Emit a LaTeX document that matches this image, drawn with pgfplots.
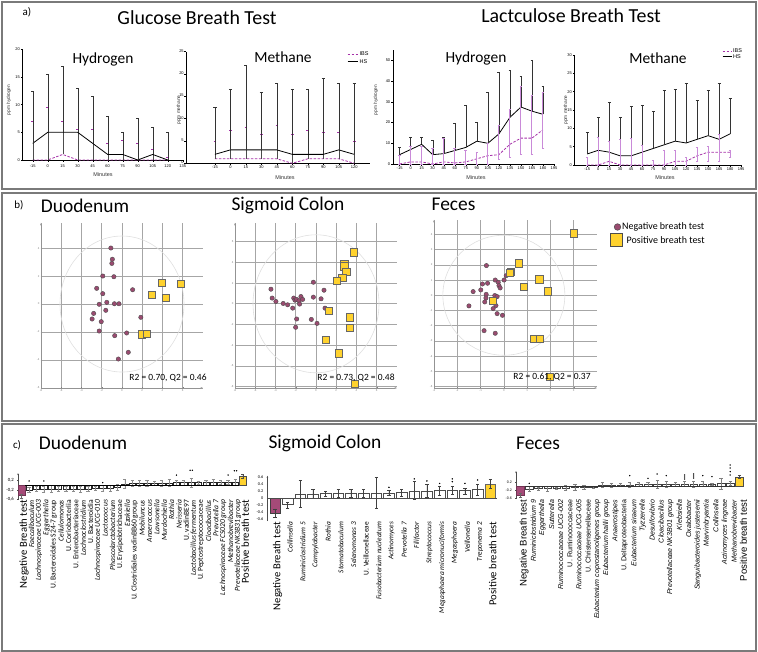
\documentclass[border=0pt]{standalone}
\usepackage{pgfplots}
\usepackage{pgfplotstable}
\pgfplotsset{compat=1.18}
\usepackage{fontspec}
\setmainfont{Carlito}
\newfontfamily\arial{Liberation Sans}
\usetikzlibrary{arrows.meta}
\definecolor{ibs}{HTML}{A52FA8}
\definecolor{ibsbar}{HTML}{C98AD8}
\definecolor{negc}{HTML}{A54A78}
\definecolor{posc}{HTML}{FFD22E}
\definecolor{dotc}{HTML}{9A4B70}
\definecolor{framec}{HTML}{7A7A7A}
\newcommand\fs[1]{\fontsize{#1}{#1}\selectfont}

\pgfplotsset{
 gp/.style={scale only axis, anchor=south west, axis x line*=bottom, axis y line*=left,
   tick align=outside, major tick length=1.8bp, every tick/.style={black, line width=0.4bp},
   axis line style={black, line width=0.5bp}, tick label style={font=\arial\fs{4}, inner sep=0.8pt},
   /pgf/number format/assume math mode=true, clip=false},
 sc/.style={scale only axis, anchor=south west, axis lines=left,
   axis line style={gray!85, line width=0.5bp, -{Stealth[length=2.5bp]}},
   grid=major, grid style={gray!70, line width=0.6bp}, major tick length=1bp,
   tick style={gray, line width=0.3bp}, tick label style={font=\arial\fs{2.8}, text=gray, inner sep=1pt},
   /pgf/number format/assume math mode=true, clip=false},
 br/.style={scale only axis, anchor=south west, axis y line=left, axis x line*=bottom,
   x axis line style={draw=none}, y axis line style={gray!60!black, line width=0.4bp, -{Stealth[length=2bp]}},
   xtick style={draw=none}, ytick style={gray!60!black, line width=0.3bp}, major tick length=1.2bp,
   xticklabel style={rotate=90, anchor=east, inner sep=1pt}, clip=false},
 eb/.style={error bars/y dir=both, error bars/y explicit,
   error bars/error bar style={#1, solid, line width=0.4bp},
   error bars/error mark options={rotate=90, #1, solid, mark size=1.6bp, line width=0.4bp}},
}

% ---------- panel a data ----------
\pgfplotstableread{
x hs hse ibs ibse
-15 3 9.5 0 7
0 5 10.5 0 9.5
15 5 12 1 6
30 5 8 0 5.5
45 3 8.5 0 5.5
60 1 7 0 3
75 1 4 0 3.5
90 0 7.5 0 3
105 1 5 0 2
120 0 5 0 0.5
}\gh
\pgfplotstableread{
x hs hse ibs ibse
-15 2 10.5 1 4
0 3 13.5 1 6.5
15 3 19 1 7
30 3 13 1 5.5
45 3 15 1 7.5
60 2 14.5 0 6.5
75 2 14.5 1 6.5
90 2 17 1 6
105 3 15 1 6
120 2 16 0 5
}\gm
\pgfplotstableread{
x hs hse ibs ibsp ibsm
-15 4.5 3.5 0 4 0
0 7 6 1 7.5 1
15 9.5 3.5 1 7.5 1
30 4.5 7 0 7.5 0
45 5 8 1 11.5 1
60 6.5 13 0.5 7 0.5
75 8 20.5 1 5.5 1
90 11 9 2.5 3 2.5
105 10 24.5 4 6 4
120 14.5 30 4.5 14 2
135 22.5 23 9.5 17 6.5
150 27.5 15 12.5 25 8
165 25.5 24.5 12.5 20.5 8
180 24 13.5 16.5 18 9
}\lh
\pgfplotstableread{
x hs hse ibs ibsp ibsm
-15 3 6 0 2 0
0 4 9 0 7.5 0
15 3.5 13.5 1 5.5 1
30 2.5 10.5 0 7 0
45 2.5 13.5 0 7.3 0
60 3.5 12.8 0 5.3 0
75 4.5 10.3 0 1.3 0
90 5.5 14.8 0 4 0
105 6.5 14.3 1 3 1
120 6 16.3 1 1 1
135 7 10.8 2.5 2.3 1.5
150 8 12.3 3.5 1.5 2.5
165 7 15.3 3.5 5 2.5
180 8.5 9.8 3.5 0.5 1.5
}\lm

% ---------- panel b data ----------
\pgfplotstableread{
x y
-1.1 4.0
-0.95 3.2
-1.0 2.9
-1.9 2.0
-0.8 1.95
-2.5 1.12
1.05 1.02
-1.9 0.74
-1.5 0.12
-0.75 0.02
-0.3 0.02
-2.25 -0.02
-1.6 -0.45
-2.8 -0.67
-2.95 -1.07
-2.05 -1.26
1.86 -0.95
-2.25 -1.93
0.46 -2.07
-0.72 -2.26
0.62 -3.45
-0.36 -3.93
}\dneg
\pgfplotstableread{
x y
3.9 1.5
5.8 1.43
2.94 0.67
4.35 0.45
1.93 -2.17
2.45 -2.14
}\dpos
\pgfplotstableread{
x y
-4.45 1.41
-3.96 0.22
-4.33 0.55
-3.24 0.03
-2.8 -0.1
-2.3 -0.42
-2.2 0.55
-2.08 0.35
-1.91 0.42
-1.68 0.29
-1.62 -0.03
-1.49 0.7
-1.32 0.42
-0.26 2.08
-0.26 0.64
0.79 1.31
0.5 0.48
0.89 -0.42
-1.91 -1.47
-0.46 -1.51
0.1 -1.89
-2.01 -2.27
}\sneg
\pgfplotstableread{
x y
3.76 4.97
2.8 3.88
2.8 3.62
3.0 3.05
2.6 2.5
2.05 2.18
1.29 -0.67
3.3 -1.31
3.37 -2.31
0.96 -3.46
2.28 -4.78
3.86 -7.72
}\spos
\pgfplotstableread{
x y
-0.75 1.95
-0.37 1.0
-0.92 0.74
-0.7 0.79
-0.24 0.85
-0.21 0.63
-0.16 0.48
0.01 1.0
0.1 1.29
-0.99 0.35
-1.32 0.24
-0.76 0.06
-0.77 -0.18
-0.39 -0.02
-0.29 -0.09
-0.82 -0.44
-1.5 -0.7
-0.34 -0.68
-0.46 -0.88
-0.29 -1.21
-0.06 -1.32
-0.85 -2.33
-0.37 -2.5
}\fneg
\pgfplotstableread{
x y
3.02 4.08
0.63 2.1
0.3 1.55
0.27 1.49
1.52 1.05
0.84 0.57
1.89 0.26
-0.49 -0.39
1.31 -2.88
1.54 -2.88
1.96 -5.35
}\fpos

% ---------- panel c data ----------
\pgfplotstableread{
x y ep em
0 -0.45 0.08 0.1
}\cdn
\pgfplotstableread{
x y ep em
1 -0.2 0.12 0.12
2 -0.17 0.1 0.1
3 -0.17 0.12 0.12
4 -0.16 0.14 0.14
5 -0.16 0.12 0.12
6 -0.16 0.12 0.12
7 -0.16 0.12 0.12
8 -0.16 0.13 0.13
9 -0.16 0.12 0.12
10 -0.14 0.08 0.08
11 -0.15 0.13 0.13
12 -0.13 0.12 0.12
13 -0.1 0.12 0.12
14 0.05 0.2 0.2
15 0.08 0.12 0.12
16 0.08 0.12 0.12
17 0.08 0.14 0.14
18 0.08 0.1 0.1
19 0.09 0.12 0.12
20 0.09 0.14 0.14
21 0.1 0.12 0.12
22 0.1 0.1 0.1
23 0.1 0.2 0.2
24 0.1 0.08 0.08
25 0.1 0.1 0.1
26 0.12 0.12 0.12
27 0.12 0.1 0.1
28 0.12 0.1 0.1
29 0.13 0.12 0.12
}\cdm
\pgfplotstableread{
x y ep em
30 0.38 0.08 0.08
}\cdp
\pgfplotstableread{
x y
1 0.17
3 0.17
11 0.1
21 0.42
22.85 0.62
23.15 0.62
28 0.42
28.85 0.6
29.15 0.6
}\cds

\pgfplotstableread{
x y ep em
0 -0.42 0.12 0.12
}\csn
\pgfplotstableread{
x y ep em
1 -0.18 0.08 0.1
2 0.13 0.38 0.37
3 0.13 0.14 0.12
4 0.14 0.08 0.08
5 0.15 0.12 0.12
6 0.15 0.12 0.1
7 0.15 0.12 0.1
8 0.15 0.45 0.42
9 0.16 0.08 0.06
10 0.17 0.1 0.1
11 0.2 0.28 0.22
12 0.21 0.19 0.16
13 0.22 0.14 0.12
14 0.22 0.12 0.1
15 0.22 0.08 0.1
16 0.25 0.17 0.17
}\csm
\pgfplotstableread{
x y ep em
17 0.4 0.14 0.1
}\csp
\pgfplotstableread{
x y
9 0.32
11 0.56
12 0.5
13 0.43
14 0.56
14 0.48
15 0.43
16 0.53
}\css

\pgfplotstableread{
x y ep em
0 -0.45 0.1 0.1
}\cfn
\pgfplotstableread{
x y ep em
1 -0.15 0.12 0.12
2 -0.12 0.08 0.08
3 -0.12 0.12 0.12
4 -0.1 0.06 0.06
5 -0.1 0.12 0.12
6 -0.08 0.15 0.15
7 -0.06 0.1 0.1
8 -0.05 0.05 0.05
9 0.05 0.12 0.12
10 0.05 0.1 0.1
11 0.06 0.06 0.06
12 0.06 0.12 0.12
13 0.07 0.1 0.1
14 0.07 0.1 0.1
15 0.08 0.2 0.2
16 0.08 0.16 0.16
17 0.09 0.12 0.12
18 0.1 0.12 0.12
19 0.1 0.14 0.14
20 0.1 0.12 0.12
21 0.11 0.05 0.05
22 0.12 0.28 0.28
23 0.13 0.1 0.1
}\cfm
\pgfplotstableread{
x y ep em
24 0.46 0.08 0.08
}\cfp
\pgfplotstableread{
x y
1 0.13
12 0.52
14 0.38
15 0.6
16 0.52
18 0.55
18 0.45
18 0.35
19 0.6
19 0.5
19 0.4
20 0.52
21 0.47
23 1.05
23 0.9
23 0.72
23 0.55
}\cfs

\begin{document}
\begin{tikzpicture}[x=1bp,y=1bp]
% frames
\draw[framec, line width=1.1bp] (2,650) rectangle (756,463);
\draw[framec, line width=1.1bp] (2,459) rectangle (756,231);
\draw[framec, line width=1.1bp] (2,228) rectangle (756,1);

% ================= panel a =================
\begin{axis}[gp, at={(22.7bp,492bp)}, width=160bp, height=110.7bp, xmin=-25, xmax=135, ymin=0, ymax=20,
  xtick={-15,0,...,135}, ytick={0,5,...,20}, xticklabel style={yshift=-1.6bp}]
\addplot[ibs, dash pattern=on 2.5bp off 1.5bp, line width=0.8bp, mark=none,
  error bars/y dir=plus, error bars/y explicit, error bars/error bar style={black!70, solid, line width=0.4bp},
  error bars/error mark options={rotate=90, ibs, solid, mark size=1.3bp, line width=0.5bp}]
  table[x=x, y=ibs, y error=ibse] {\gh};
\addplot[black, line width=0.8bp, mark=none,
  error bars/y dir=plus, error bars/y explicit, error bars/error bar style={black!80, line width=0.4bp},
  error bars/error mark options={rotate=90, black!80, mark size=1.6bp, line width=0.4bp}]
  table[x=x, y=hs, y error=hse] {\gh};
\end{axis}

\begin{axis}[gp, at={(186bp,488.7bp)}, width=183.7bp, height=111.6bp, xmin=-43, xmax=135, ymin=0, ymax=25,
  xtick={-15,0,...,120}, ytick={0,5,...,25}, yticklabel style={inner sep=0.3pt, yshift=0.8bp}]
\addplot[ibs, dash pattern=on 2.5bp off 1.5bp, line width=0.8bp, mark=none,
  error bars/y dir=plus, error bars/y explicit, error bars/error bar style={black!70, solid, line width=0.4bp},
  error bars/error mark options={rotate=90, ibs, solid, mark size=1.3bp, line width=0.5bp}]
  table[x=x, y=ibs, y error=ibse] {\gm};
\addplot[black, line width=0.8bp, mark=none,
  error bars/y dir=plus, error bars/y explicit, error bars/error bar style={black!80, line width=0.4bp},
  error bars/error mark options={rotate=90, black!80, mark size=1.6bp, line width=0.4bp}]
  table[x=x, y=hs, y error=hse] {\gm};
\end{axis}

\begin{axis}[gp, at={(393bp,488bp)}, width=161bp, height=113.9bp, xmin=-24, xmax=195, ymin=0, ymax=55,
  xtick={-15,0,...,195}, ytick={0,10,...,50}]
\addplot[black, line width=0.8bp, mark=none,
  error bars/y dir=plus, error bars/y explicit, error bars/error bar style={black!80, line width=0.4bp},
  error bars/error mark options={rotate=90, black!80, mark size=1.4bp, line width=0.4bp}]
  table[x=x, y=hs, y error=hse] {\lh};
\addplot[ibs, dash pattern=on 2.5bp off 1.5bp, line width=0.8bp, mark=none,
  error bars/y dir=both, error bars/y explicit, error bars/error bar style={ibsbar, solid, line width=1bp},
  error bars/error mark options={rotate=90, ibsbar, solid, mark size=1.3bp, line width=0.6bp}]
  table[x=x, y=ibs, y error plus=ibsp, y error minus=ibsm] {\lh};
\end{axis}

\begin{axis}[gp, at={(574.7bp,487bp)}, width=166.4bp, height=110bp, xmin=-32, xmax=195, ymin=0, ymax=30,
  xtick={-15,0,...,195}, ytick={0,5,...,30}]
\addplot[black, line width=0.8bp, mark=none,
  error bars/y dir=plus, error bars/y explicit, error bars/error bar style={black!80, line width=0.4bp},
  error bars/error mark options={rotate=90, black!80, mark size=1.4bp, line width=0.4bp}]
  table[x=x, y=hs, y error=hse] {\lm};
\addplot[ibs, dash pattern=on 2.5bp off 1.5bp, line width=0.8bp, mark=none,
  error bars/y dir=both, error bars/y explicit, error bars/error bar style={ibsbar, solid, line width=0.8bp},
  error bars/error mark options={rotate=90, ibsbar, solid, mark size=1.3bp, line width=0.6bp}]
  table[x=x, y=ibs, y error plus=ibsp, y error minus=ibsm] {\lm};
\end{axis}

\node[font=\fs{11}] at (27,640) {a)};
\node[font=\fs{20}] at (197,634) {Glucose Breath Test};
\node[font=\fs{20}] at (571,636) {Lactculose Breath Test};
\node[font=\fs{15.5}] at (103,593) {Hydrogen};
\node[font=\fs{15.5}] at (283,595) {Methane};
\node[font=\fs{15.5}] at (476,594) {Hydrogen};
\node[font=\fs{15.5}] at (658,594) {Methane};
\foreach \xx/\yy in {103/477, 285/474.5, 476/474, 665/474}
  \node[font=\arial\fs{5.5}, text=black!80] at (\xx,\yy) {Minutes};
\node[font=\arial\fs{4.8}, rotate=90, text=black!80] at (9,552) {ppm hydrogen};
\node[font=\arial\fs{4.8}, rotate=90, text=black!80] at (179,542) {ppm methane};
\node[font=\arial\fs{4.8}, rotate=90, text=black!80] at (376,552) {ppm hydrogen};
\node[font=\arial\fs{4.8}, rotate=90, text=black!80] at (566,542) {ppm methane};
% legends
\draw[ibs, dash pattern=on 2.5bp off 1.5bp, line width=0.8bp] (347.5,598) -- (357.5,598);
\node[font=\arial\fs{5.5}, anchor=west, inner sep=0.5pt] at (359,598) {IBS};
\draw[black, line width=0.8bp] (347.5,590.5) -- (357.5,590.5);
\node[font=\arial\fs{5.5}, anchor=west, inner sep=0.5pt] at (359,590.5) {HS};
\draw[ibs, dash pattern=on 2.5bp off 1.5bp, line width=0.8bp] (722.5,601) -- (731.5,601);
\node[font=\arial\fs{5.5}, anchor=west, inner sep=0.5pt] at (732.5,601) {IBS};
\draw[black, line width=0.8bp] (722.5,595.3) -- (731.5,595.3);
\node[font=\arial\fs{5.5}, anchor=west, inner sep=0.5pt] at (732.5,595.3) {HS};

% ================= panel b =================
\begin{axis}[sc, at={(41bp,264bp)}, width=162bp, height=165bp, xmin=-8, xmax=8, ymin=-6, ymax=5.79,
  xtick={-8,-6,...,6}, ytick={-6,-4,...,4}]
\draw[gray!25, line width=0.6bp] (axis cs:0,0) ellipse [x radius=62bp, y radius=68bp];
\addplot[only marks, mark=*, mark size=2.2bp, mark options={fill=dotc, draw=black!70, line width=0.4bp}] table {\dneg};
\addplot[only marks, mark=square*, mark size=3.6bp, mark options={fill=posc, draw=black!60, line width=0.6bp}] table {\dpos};
\end{axis}
\begin{axis}[sc, at={(235bp,264bp)}, width=162bp, height=165bp, xmin=-8, xmax=8, ymin=-8.13, ymax=7.8,
  xtick={-8,-6,...,6}, ytick={-8,-6,...,6}]
\draw[gray!25, line width=0.6bp] (axis cs:0,0) ellipse [x radius=63bp, y radius=69bp];
\addplot[only marks, mark=*, mark size=2.2bp, mark options={fill=dotc, draw=black!70, line width=0.4bp}] table {\sneg};
\addplot[only marks, mark=square*, mark size=3.6bp, mark options={fill=posc, draw=black!60, line width=0.6bp}] table {\spos};
\end{axis}
\begin{axis}[sc, at={(434bp,264bp)}, width=163bp, height=168bp, xmin=-3, xmax=4, ymin=-6.1, ymax=4.95,
  xtick={-3,...,3}, ytick={-6,...,4}]
\draw[gray!25, line width=0.6bp] (axis cs:0,0) ellipse [x radius=61bp, y radius=60bp];
\addplot[only marks, mark=*, mark size=2.2bp, mark options={fill=dotc, draw=black!70, line width=0.4bp}] table {\fneg};
\addplot[only marks, mark=square*, mark size=3.6bp, mark options={fill=posc, draw=black!60, line width=0.6bp}] table {\fpos};
\end{axis}

\node[font=\fs{11}] at (19,447) {b)};
\node[font=\fs{19.5}] at (85,446) {Duodenum};
\node[font=\fs{19.5}] at (288,447) {Sigmoid Colon};
\node[font=\fs{19.5}] at (453.5,448) {Feces};
\node[font=\fs{9.5}] at (168,274) {R2 = 0.70, Q2 = 0.46};
\node[font=\fs{9.5}] at (356,274) {R2 = 0.73, Q2 = 0.48};
\node[font=\fs{9.5}] at (552,275) {R2 = 0.61, Q2 = 0.37};
\filldraw[fill=dotc, draw=black!70, line width=0.5bp] (617.5,425) circle (3.3);
\node[font=\fs{10}, anchor=west, inner sep=0.5pt] at (621.5,425.5) {Negative breath test};
\filldraw[fill=posc, draw=black!70, line width=1bp] (610,405.5) rectangle (622.5,418);
\node[font=\fs{10}, anchor=west, inner sep=0.5pt] at (626,412) {Positive breath test};

% ================= panel c =================
\begin{axis}[br, at={(18bp,152.75bp)}, width=228.5bp, height=26.1bp, xmin=-0.5, xmax=30.5, ymin=-0.6, ymax=0.5,
  bar width=6.3bp, ytick={0.2,-0.2,-0.6}, yticklabels={{0,2},{-0,2},{-0,6}},
  yticklabel style={font=\fs{4.8}},
  xtick={0,...,30}, xticklabel style={font=\fs{7.6}, inner sep=0.6pt, yshift=-2.5bp},
  xticklabels={{\fs{10.7}Negative Breath test},{\itshape Faecalibaculum},{\itshape Lachnospiraceae UCG-003},{\itshape Eggerthella},
   {U. Bacteroidales S24-7 group},{\itshape Cellulomonas},{U. Coriobacteriia},{U. Enterobacteriaceae},{\itshape Lachnoclostridium},
   {U. Bacteroidia},{\itshape Lachnospiraceae UCG-010},{\itshape Lactococcus},{\itshape Phascolarctobacterium},{U. Erysipelotrichaceae},
   {\itshape Ezakiella},{U. Clostridiales vadinBB60 group},{\itshape Mobiluncus},{\itshape Anaerococcus},{\itshape Lawsonella},
   {\itshape Murdochiella},{\itshape Rothia},{\itshape Neisseria},{U. vadinBE97},{\itshape Lactobacillus fermentum},
   {U. Peptostreptococcaceae},{\itshape Cloacibacillus},{\itshape Prevotella 7},{\itshape Lachnospiraceae FCS020 group},
   {\itshape Methanobrevibacter},{\itshape Prevotellaceae NK3B31 group},{\fs{10.7}Positive breath test}}]
\addplot[ybar, bar shift=0pt, fill=negc, draw=negc!70!black, line width=0.4bp, eb=black!60] table[x=x,y=y,y error plus=ep,y error minus=em] {\cdn};
\addplot[ybar, bar shift=0pt, fill=white, draw=black!85, line width=0.5bp, eb=black!45] table[x=x,y=y,y error plus=ep,y error minus=em] {\cdm};
\addplot[ybar, bar shift=0pt, fill=posc, draw=black!70, line width=0.4bp, eb=black!70] table[x=x,y=y,y error plus=ep,y error minus=em] {\cdp};
\draw[black, line width=0.7bp] (axis cs:0.5,0) -- (axis cs:29.5,0);
\addplot[only marks, mark=*, mark size=0.45bp, black] table {\cds};
\end{axis}

\begin{axis}[br, at={(267.4bp,130.75bp)}, width=229.2bp, height=45.5bp, xmin=-0.6, xmax=17.5, ymin=-0.65, ymax=0.65,
  bar width=10.5bp, ytick={-0.6,-0.4,...,0.61}, yticklabels={-0.6,-0.4,-0.2,0,0.2,0.4,0.6},
  yticklabel style={font=\fs{4.3}},
  xtick={0,...,17}, xticklabel style={font=\fs{7.4}, inner sep=0.6pt, yshift=-2.5bp},
  xticklabels={{\fs{10.7}Negative Breath test},{\itshape Collinsella},{\itshape Ruminiclostridium 5},{\itshape Campylobacter},
   {\itshape Rothia},{\itshape Stomatobaculum},{\itshape Selenomonas 3},{U. Veillonellaceae},{\itshape Fusobacterium nucleatum},
   {\itshape Actinomyces},{\itshape Prevotella 7},{\itshape Filifactor},{\itshape Streptococcus},{\itshape Megasphaera micronuciformis},
   {\itshape Megasphaera},{\itshape Veillonella},{\itshape Treponema 2},{\fs{10.7}Positive breath test}}]
\addplot[ybar, bar shift=0pt, fill=negc, draw=black!75, line width=0.5bp, eb=black!75] table[x=x,y=y,y error plus=ep,y error minus=em] {\csn};
\addplot[ybar, bar shift=0pt, fill=white, draw=black!70, line width=0.6bp, eb=black!75] table[x=x,y=y,y error plus=ep,y error minus=em] {\csm};
\addplot[ybar, bar shift=0pt, fill=posc, draw=black!60, line width=0.4bp, eb=black!75] table[x=x,y=y,y error plus=ep,y error minus=em] {\csp};
\draw[black!70, line width=0.4bp] (axis cs:-0.6,0) -- (axis cs:17.5,0);
\addplot[only marks, mark=*, mark size=0.5bp, black] table {\css};
\end{axis}

\begin{axis}[br, at={(516bp,153bp)}, width=227.9bp, height=28bp, xmin=-0.45, xmax=24.5, ymin=-0.65, ymax=0.75,
  bar width=7.5bp, ytick={0.2,-0.2,-0.6}, yticklabels={0.2,-0.2,-0.6},
  yticklabel style={font=\arial\fs{3.6}},
  xtick={0,...,24}, xticklabel style={font=\arial\fs{7.1}, inner sep=0.6pt, yshift=-4bp},
  xticklabels={{\fs{9.6}Negative Breath test},{\itshape Ruminiclostridium 9},{\itshape Eggerthella},{\itshape Sutterella},
   {\itshape Ruminococcaceae UCG-002},{U. Ruminococcaceae},{\itshape Ruminococcaceae UCG-005},{U. Christensenellaceae},
   {\itshape Eubacterium coprostanoligenes group},{\itshape Eubacterium hallii group},{\itshape Anaerostipes},{U. Deltaproteobacteria},
   {\itshape Eubacterium siraeum},{\itshape Tyzzerella},{\itshape Desulfovibrio},{\itshape Cloacibacillus},
   {\itshape Prevotellaceae NK3B01 group},{\itshape Klebsiella},{\itshape Oxalobacter},{\itshape Sanguibacteroides justesenii},
   {\itshape Marvinbryantia},{\itshape Collinsella},{\itshape Actinomyces lingnae},{\itshape Methanobrevibacter},{\fs{9.6}Positive breath test}}]
\addplot[ybar, bar shift=0pt, fill=negc, draw=negc!70!black, line width=0.4bp, eb=black!60] table[x=x,y=y,y error plus=ep,y error minus=em] {\cfn};
\addplot[ybar, bar shift=0pt, fill=white, draw=black!75, line width=0.5bp, eb=black!50] table[x=x,y=y,y error plus=ep,y error minus=em] {\cfm};
\addplot[ybar, bar shift=0pt, fill=posc, draw=black!70, line width=0.4bp, eb=black!70] table[x=x,y=y,y error plus=ep,y error minus=em] {\cfp};
\draw[black!80, line width=0.6bp] (axis cs:0.5,0) -- (axis cs:23.5,0);
\addplot[only marks, mark=*, mark size=0.45bp, black] table {\cfs};
\end{axis}

\node[font=\fs{11}] at (17,207) {c)};
\node[font=\fs{19.5}] at (83,209) {Duodenum};
\node[font=\fs{19.5}] at (325,209) {Sigmoid Colon};
\node[font=\fs{19.5}] at (538,209) {Feces};

\pgfresetboundingbox
\useasboundingbox (0,0) rectangle (758,652);
\end{tikzpicture}
\end{document}
